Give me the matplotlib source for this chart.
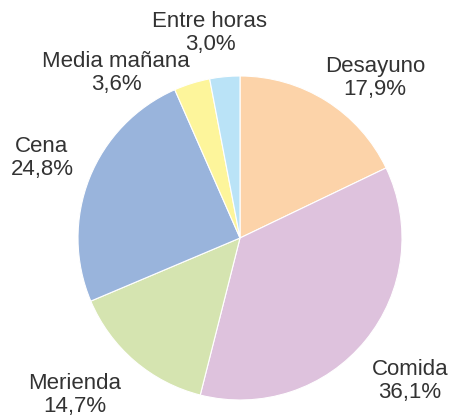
import matplotlib.pyplot as plt

# datos del gráfico
categorias = ["Desayuno", "Comida", "Merienda", "Cena", "Media mañana", "Entre horas"]
porcentajes = [17.9, 36.1, 14.7, 24.8, 3.6, 3.0]
colores = ["#fcd3a9", "#dec2dd", "#d5e4b0", "#99b4dc", "#fdf59b", "#bae3f7"]

# posición de cada etiqueta (en píxeles, origen arriba a la izquierda)
pos_etiquetas = [(375, 78), (410, 381), (75, 395), (42, 158), (116, 73), (210, 33)]

W, H = 449, 416
fig = plt.figure(figsize=(W / 100, H / 100), dpi=100)
ax = fig.add_axes([0, 0, 1, 1])

ax.pie(porcentajes, colors=colores, startangle=90, counterclock=False,
       center=(240, H - 238), radius=162,
       wedgeprops=dict(edgecolor="white", linewidth=0.8))

ax.set_xlim(0, W)
ax.set_ylim(0, H)
ax.set_aspect("equal")
ax.axis("off")

for cat, val, (px, py) in zip(categorias, porcentajes, pos_etiquetas):
    texto = cat + "\n" + f"{val:.1f}%".replace(".", ",")
    ax.text(px, H - py, texto, ha="center", va="center", fontsize=16,
            family="Liberation Sans", color="#333333", linespacing=1.08)

fig.savefig("out.png", dpi=100)
